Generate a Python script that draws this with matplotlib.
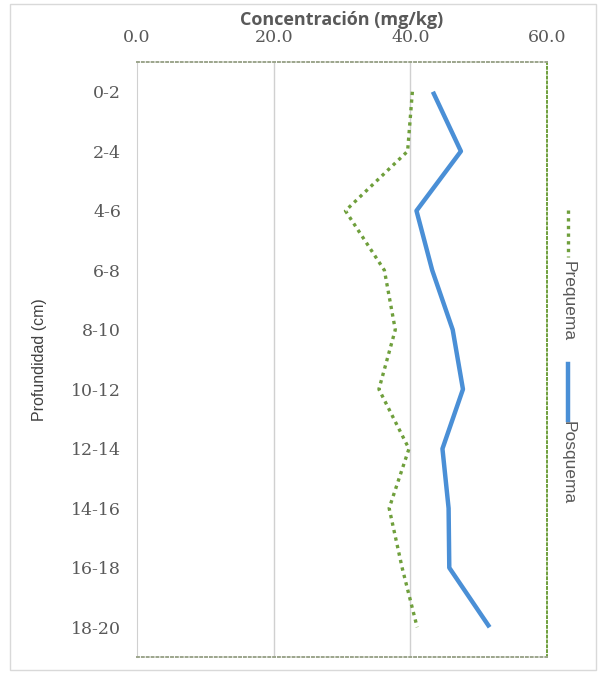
import matplotlib.pyplot as plt
from matplotlib.lines import Line2D
from matplotlib.patches import Rectangle

# depth intervals (cm) and concentration (mg/kg)
depths = ["0-2", "2-4", "4-6", "6-8", "8-10", "10-12", "12-14", "14-16", "16-18", "18-20"]
prequema = [40.3, 39.6, 30.5, 36.2, 37.8, 35.4, 39.8, 36.9, 38.8, 41.0]
posquema = [43.3, 47.4, 40.9, 43.2, 46.2, 47.7, 44.7, 45.6, 45.7, 51.6]
xticks = [0, 20, 40, 60]

green = "#6f9f3c"
blue = "#4a8fd6"
grey = "#595959"

fig = plt.figure(figsize=(5.98, 6.74), dpi=100)
fig.patch.set_facecolor("white")
# outer chart frame
fig.patches.append(Rectangle((10 / 598, 4 / 674), 586 / 598, 666 / 674, transform=fig.transFigure,
                             fill=False, edgecolor="#d9d9d9", linewidth=1))

ax = fig.add_axes([137 / 598, 1 - 657 / 674, 410 / 598, 595 / 674])
ypos = list(range(len(depths)))

ax.plot(prequema, ypos, color=green, linewidth=2.4, linestyle=(0, (1, 1.3)), dash_capstyle="butt")
ax.plot(posquema, ypos, color=blue, linewidth=3.2, solid_capstyle="butt")

ax.set_xlim(0, 60)
ax.set_ylim(len(depths) - 0.5, -0.5)
ax.set_xticks(xticks)
ax.set_xticklabels([f"{v:.1f}" for v in xticks], family="DejaVu Serif", fontsize=12.5, color=grey)
ax.set_yticks(ypos)
ax.set_yticklabels(depths, family="DejaVu Serif", fontsize=12.5, color=grey)
ax.xaxis.tick_top()
ax.xaxis.set_label_position("top")
ax.tick_params(length=0)
ax.tick_params(axis="x", pad=11.5)
ax.tick_params(axis="y", pad=11.5)

for v in xticks[1:3]:
    ax.axvline(v, color="#d0d0d0", linewidth=1, zorder=0)

ax.spines["left"].set_color("#d0d0d0")
for s in ["top", "bottom"]:
    ax.spines[s].set_color("#9ca58c")
    ax.spines[s].set_linestyle((0, (1, 1.5)))
    ax.spines[s].set_linewidth(1.4)
ax.spines["right"].set_color(green)
ax.spines["right"].set_linestyle((0, (1, 1.5)))
ax.spines["right"].set_linewidth(1.4)

ax.set_xlabel("Concentración (mg/kg)", family="Open Sans", fontweight="bold", fontsize=13,
              color=grey, labelpad=3)
ax.set_ylabel("Profundidad (cm)", family="Liberation Sans", fontsize=11.5, color="#404040",
              labelpad=17)

# rotated legend on the right
fig.add_artist(Line2D([568 / 598, 568 / 598], [1 - 210 / 674, 1 - 257 / 674], transform=fig.transFigure,
                      color=green, linewidth=2.4, linestyle=(0, (1, 1.3))))
fig.text(568 / 598, 1 - 261 / 674, "Prequema", rotation=-90, ha="center", va="top",
         family="Liberation Sans", fontsize=12.5, color=grey)
fig.add_artist(Line2D([568 / 598, 568 / 598], [1 - 364 / 674, 1 - 420 / 674], transform=fig.transFigure,
                      color=blue, linewidth=3.2))
fig.text(568 / 598, 1 - 421 / 674, "Posquema", rotation=-90, ha="center", va="top",
         family="Liberation Sans", fontsize=12.5, color=grey)

fig.savefig("out.png", dpi=100)
